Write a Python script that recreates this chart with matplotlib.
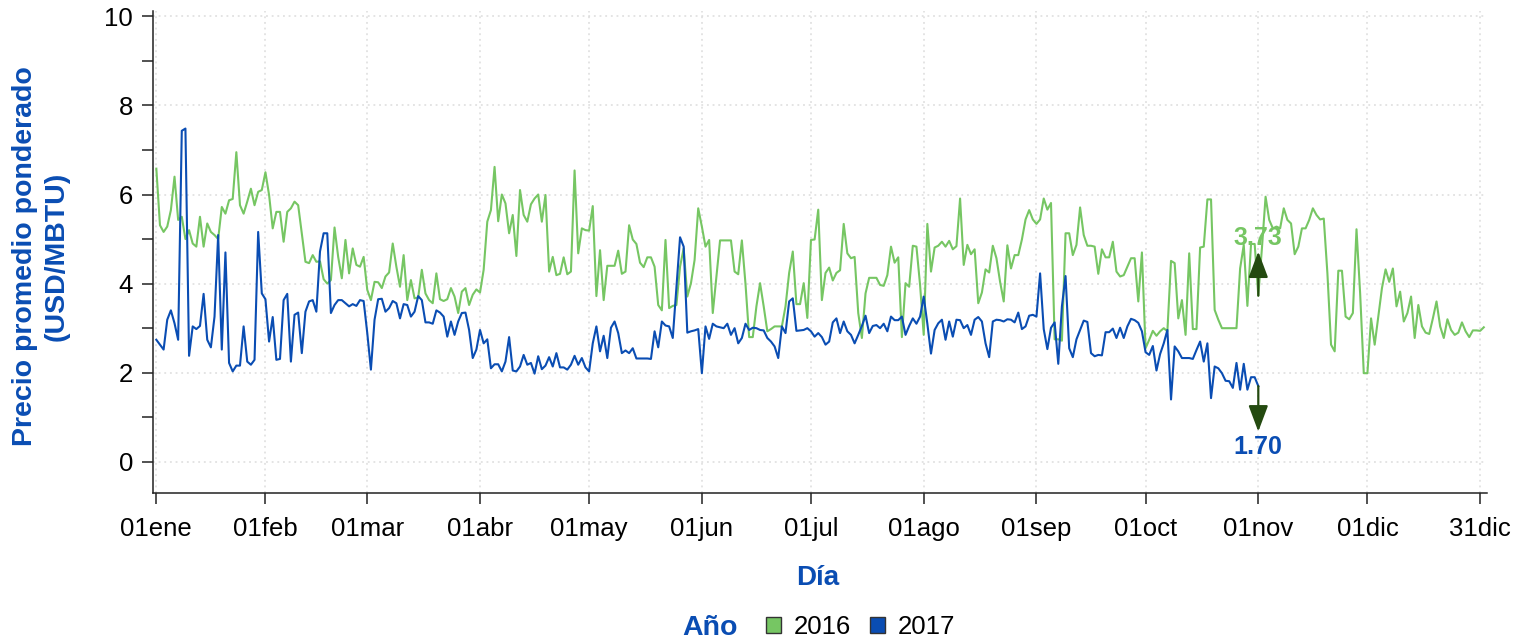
import matplotlib
matplotlib.use("Agg")
import matplotlib.pyplot as plt
from matplotlib.patches import Patch
from matplotlib.ticker import MultipleLocator
import numpy as np
import pandas as pd

plt.rcParams['font.family'] = ['Liberation Sans', 'DejaVu Sans']

# daily weighted average price, 2016 (full year) and 2017 (Jan 1 - Oct 31)
precio_2016 = [
    6.58, 5.31, 5.16, 5.28, 5.65, 6.40, 5.43, 5.50, 5.00, 5.20,
    4.90, 4.83, 5.50, 4.83, 5.35, 5.16, 5.09, 5.00, 5.72, 5.57,
    5.87, 5.90, 6.95, 5.76, 5.57, 5.84, 6.13, 5.76, 6.06, 6.10,
    6.50, 5.99, 5.24, 5.61, 5.61, 4.94, 5.61, 5.69, 5.84, 5.76,
    5.13, 4.49, 4.46, 4.64, 4.49, 4.50, 4.10, 4.00,
    4.08, 5.26, 4.60, 4.12, 4.98, 4.23, 4.79, 4.42, 4.38, 4.60,
    3.86, 3.63, 4.04, 4.03, 3.90, 4.16, 4.25, 4.90, 4.38, 3.93,
    4.64, 3.63, 4.08, 3.67, 3.69, 4.31, 3.78, 3.63, 3.56, 4.23,
    3.65, 3.61, 3.65, 3.90, 3.71, 3.34, 3.82, 3.90, 3.52, 3.75,
    3.87, 3.80, 4.31, 5.39, 5.65, 6.62, 5.40,
    6.00, 5.80, 5.13, 5.54, 4.62, 6.10, 5.54, 5.39, 5.78, 5.91,
    6.00, 5.39, 5.99, 4.27, 4.60, 4.19, 4.22, 4.59, 4.21, 4.27,
    6.54, 4.68, 5.24, 5.20, 5.19, 5.74, 3.72, 4.75, 3.63, 4.40,
    4.40, 4.40, 4.74, 4.22, 4.27, 5.31, 4.99, 4.89, 4.47, 4.37,
    4.59, 4.59, 4.38, 3.52, 3.40, 4.98, 3.45,
    3.50, 3.52, 4.38, 4.79, 3.71, 4.01, 4.53, 5.69, 5.28, 4.83,
    4.98, 3.34, 4.16, 4.97, 4.97, 4.97, 4.97, 4.27, 4.21, 4.97,
    3.99, 2.80, 2.80, 3.49, 4.01, 3.49, 2.93, 2.98, 3.04, 3.04,
    3.04, 3.49, 4.24, 4.72, 3.54, 3.54, 4.01, 3.23, 4.98, 4.99,
    5.66, 3.63, 4.24, 4.36, 4.07, 4.24, 4.30,
    5.34, 4.68, 4.57, 4.60, 3.34, 2.78, 3.78, 4.13, 4.13, 4.13,
    3.97, 3.95, 4.19, 4.83, 4.47, 4.59, 2.80, 4.01, 3.93, 4.85,
    4.83, 3.97, 2.85, 5.34, 4.27, 4.81, 4.85, 4.94, 4.83, 4.96,
    4.77, 4.84, 5.91, 4.42, 4.87, 4.66, 4.77, 3.56, 3.80, 4.32,
    4.25, 4.85, 4.57, 4.04, 3.60, 4.86,
    4.34, 4.64, 4.64, 4.99, 5.44, 5.65, 5.44, 5.34, 5.44, 5.91,
    5.66, 5.81, 2.75, 2.75, 2.72, 5.13, 5.13, 4.64, 4.87, 5.71,
    5.09, 4.85, 4.85, 4.83, 4.22, 4.77, 4.59, 4.59, 4.94, 4.27,
    4.16, 4.19, 4.38, 4.57, 4.57, 3.60, 4.70, 2.55, 2.74, 2.94,
    2.83, 2.93, 3.00, 2.93, 4.51, 4.46, 3.22,
    3.63, 2.85, 4.68, 2.98, 2.98, 4.81, 4.83, 5.89, 5.89, 3.41,
    3.19, 3.00, 3.00, 3.00, 3.00, 3.00, 4.34, 4.87, 3.50, 4.89,
    4.89,
    3.73, 4.80, 5.95, 5.43, 5.24, 5.28, 5.24, 5.69, 5.43, 5.35,
    4.66, 4.83, 5.24, 5.24, 5.43, 5.69, 5.54, 5.44, 5.46, 4.23,
    2.63, 2.48, 4.29, 4.29, 3.26, 3.20,
    3.34, 5.22, 3.78, 1.99, 1.99, 3.22, 2.63, 3.26, 3.90, 4.32,
    4.04, 4.34, 3.49, 3.82, 3.15, 3.34, 3.71, 2.78, 3.52, 3.04,
    2.90, 2.87, 3.22, 3.60, 3.04, 2.78, 3.20, 2.96, 2.85, 2.90,
    3.13, 2.93, 2.80, 2.95, 2.95, 2.94, 3.02,
]

precio_2017 = [
    2.74, 2.63, 2.52, 3.19, 3.40, 3.11, 2.74, 7.43, 7.48, 2.38,
    3.04, 2.98, 3.05, 3.77, 2.74, 2.57, 3.26, 5.09, 2.52, 4.70,
    2.22, 2.03, 2.16, 2.16, 3.04, 2.25, 2.18, 2.29, 5.16, 3.78,
    3.65, 2.70, 3.25, 2.29, 2.31, 3.63, 3.77, 2.25, 3.30, 3.35,
    2.44, 3.37, 3.60, 3.63, 3.37, 4.72, 5.13, 5.13,
    3.34, 3.52, 3.63, 3.63, 3.56, 3.49, 3.54, 3.50, 3.63, 3.61,
    2.89, 2.07, 3.19, 3.65, 3.66, 3.37, 3.45, 3.61, 3.56, 3.22,
    3.54, 3.52, 3.26, 3.37, 3.72, 3.63, 3.13, 3.13, 3.10, 3.40,
    3.35, 3.26, 2.81, 3.15, 2.85, 3.15, 3.34, 3.35, 2.96, 2.33,
    2.52, 2.96, 2.66, 2.75, 2.10, 2.19, 2.19,
    2.03, 2.25, 2.80, 2.05, 2.03, 2.14, 2.40, 2.18, 2.22, 1.98,
    2.37, 2.08, 2.16, 2.35, 2.14, 2.44, 2.12, 2.12, 2.07, 2.18,
    2.38, 2.18, 2.33, 2.12, 2.03, 2.66, 3.04, 2.48, 2.83, 2.33,
    3.01, 3.15, 2.89, 2.44, 2.50, 2.44, 2.55, 2.32, 2.32, 2.32,
    2.32, 2.31, 2.93, 2.57, 3.15, 3.06, 3.04,
    2.78, 3.90, 5.04, 4.83, 2.90, 2.93, 2.95, 2.98, 1.99, 3.04,
    2.76, 3.10, 3.04, 3.02, 3.00, 3.10, 2.85, 3.00, 2.66, 2.78,
    3.10, 2.96, 3.01, 3.00, 2.96, 2.95, 2.78, 2.70, 2.59, 2.33,
    3.04, 2.89, 3.60, 3.67, 2.94, 2.95, 2.96, 3.00, 2.93, 2.81,
    2.89, 2.80, 2.63,
    2.70, 3.13, 3.22, 2.89, 3.15, 2.93, 2.85, 2.66, 2.85, 3.05,
    3.28, 2.89, 3.05, 3.07, 3.00, 3.10, 2.93, 3.26, 3.18, 3.18,
    3.26, 2.85, 3.05, 3.22, 3.10, 3.26, 3.71, 3.10, 2.43, 2.96,
    3.11, 3.19, 2.74, 3.15, 2.81, 3.19, 3.18, 3.00, 3.07, 2.85,
    3.19, 3.25, 3.15, 2.66, 2.35, 3.15, 3.19, 3.18, 3.15, 3.20,
    3.19, 3.13, 3.35, 2.98, 3.04, 3.28, 3.30, 3.26, 4.23, 2.98,
    2.53, 3.01, 3.13, 2.20, 3.49, 4.17, 2.55, 2.35, 2.75, 2.96,
    3.17, 3.14, 2.44, 2.37, 2.40, 2.39, 2.91, 2.91, 2.99, 2.78,
    3.01, 2.78, 3.04, 3.21, 3.18, 3.12, 2.93, 2.46, 2.40, 2.60,
    2.05, 2.42, 2.66, 2.96, 1.40,
    2.59, 2.48, 2.33, 2.33, 2.33, 2.31, 2.51, 2.70, 2.25, 2.66,
    1.43, 2.14, 2.10, 1.99, 1.82, 1.81, 1.66, 2.22, 1.62, 2.20,
    1.62, 1.90, 1.90, 1.70,
]

dias_2016 = pd.date_range("2016-01-01", periods=len(precio_2016)).dayofyear
dias_2017 = pd.date_range("2017-01-01", periods=len(precio_2017)).dayofyear

tick_pos = [1, 31, 59, 90, 120, 151, 181, 212, 243, 273, 304, 334, 365]
tick_lab = ["01ene", "01feb", "01mar", "01abr", "01may", "01jun", "01jul",
            "01ago", "01sep", "01oct", "01nov", "01dic", "31dic"]

verde = "#76c663"
azul = "#0a4db3"
flecha = "#244a10"

fig = plt.figure(figsize=(15.3, 6.42), dpi=100)
ax = fig.add_axes([0.0998, 0.232, 0.8719, 0.751])

ax.plot(dias_2016, precio_2016, color=verde, lw=1.5)
ax.plot(dias_2017, precio_2017, color=azul, lw=1.5)

ax.set_xlim(0, 366.8)
ax.set_ylim(-0.7, 10.12)
ax.set_xticks(tick_pos)
ax.set_xticklabels(tick_lab)
ax.set_yticks(np.arange(0, 11, 2))
ax.yaxis.set_minor_locator(MultipleLocator(1))
ax.tick_params(axis='both', labelsize=18.5, length=8, width=1.1, color='#222222')
ax.tick_params(axis='y', which='minor', length=8, width=1.1, color='#222222')
ax.tick_params(axis='x', pad=9)
ax.tick_params(axis='y', pad=6)
ax.grid(True, which='major', linestyle=(0, (1.2, 2.5)), color='#dcdcdc', lw=1.1)
ax.set_axisbelow(True)
for s in ['top', 'right']:
    ax.spines[s].set_visible(False)
for s in ['left', 'bottom']:
    ax.spines[s].set_linewidth(1.1)
    ax.spines[s].set_color('#222222')

# annotations at 01nov
ult_16 = precio_2016[303]
ult_17 = precio_2017[-1]
ax.annotate("", xy=(304, 4.72), xytext=(304, ult_16),
            arrowprops=dict(arrowstyle='-|>,head_width=0.3,head_length=0.8',
                            color=flecha, lw=1.6, shrinkA=0, shrinkB=0,
                            mutation_scale=20))
ax.text(304, 5.02, f"{ult_16:.2f}", color=verde, fontsize=18, fontweight='bold',
        ha='center', va='center')
ax.annotate("", xy=(304, 0.68), xytext=(304, ult_17),
            arrowprops=dict(arrowstyle='-|>,head_width=0.3,head_length=0.8',
                            color=flecha, lw=1.6, shrinkA=0, shrinkB=0,
                            mutation_scale=20))
ax.text(304, 0.34, f"{ult_17:.2f}", color=azul, fontsize=18, fontweight='bold',
        ha='center', va='center')

fig.text(41 / 1530, 1 - 256 / 642, "Precio promedio ponderado\n(USD/MBTU)",
         rotation=90, ha='center', va='center', ma='center', color=azul,
         fontsize=20.5, fontweight='bold', linespacing=1.3)
fig.text(818 / 1530, 1 - 578 / 642, "Día", ha='center', va='center',
         color=azul, fontsize=20, fontweight='bold')
fig.text(710 / 1530, 1 - 628 / 642, "Año", ha='center', va='center',
         color=azul, fontsize=20.5, fontweight='bold')

handles = [Patch(facecolor=verde, edgecolor='#333333', lw=1),
           Patch(facecolor=azul, edgecolor='#333333', lw=1)]
fig.legend(handles, ["2016", "2017"], loc='center left',
           bbox_to_anchor=(766 / 1530, 1 - 627 / 642), ncol=2, frameon=False,
           fontsize=18.5, handlelength=0.58, handleheight=0.58,
           handletextpad=0.5, columnspacing=0.75, borderpad=0, borderaxespad=0)

fig.savefig("out.png", dpi=100)
